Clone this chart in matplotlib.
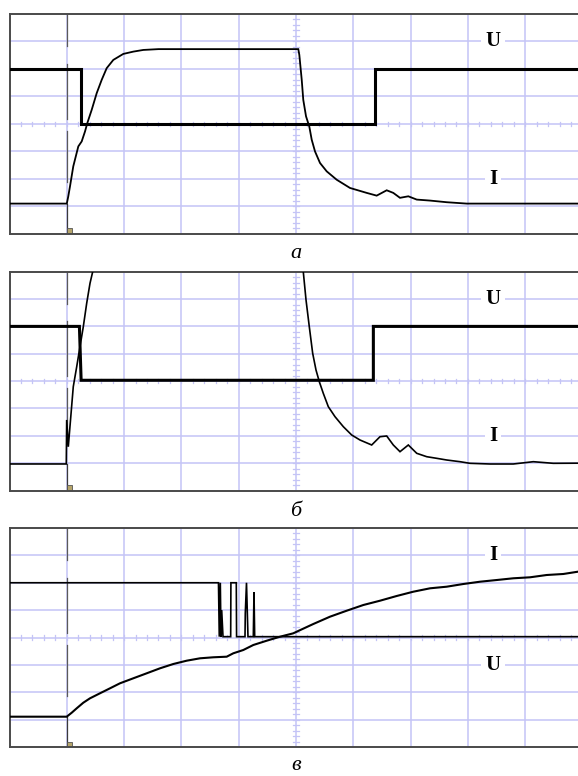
import matplotlib.pyplot as plt
from matplotlib.patches import Rectangle
import numpy as np

plt.rcParams['font.family'] = ['Liberation Serif', 'DejaVu Serif']

W, H = 578, 776          # размер рисунка, px
DPI = 100
X0, DIV_X = 9.5, 57.3    # левый край экрана и цена деления по x, px

GRID_COLOR = '#c4c4f6'
FRAME_COLOR = '#4a4a4a'
TRACE_COLOR = 'black'

# ---- осциллограмма а ----
a_u_t = [0.0, 1.25, 1.25, 6.38, 6.38, 10.0]
a_u = [6.0, 6.0, 4.0, 4.0, 6.0, 6.0]
a_i_t = [0.0, 1.0, 1.026, 1.056, 1.113, 1.201, 1.26, 1.318, 1.358, 1.435,
         1.522, 1.609, 1.696, 1.812, 1.986, 2.161, 2.335, 2.6, 5.04,
         5.058, 5.1, 5.127, 5.175, 5.232, 5.274, 5.332, 5.419, 5.536, 5.71,
         5.942, 6.234, 6.408, 6.583, 6.698, 6.815, 6.96, 7.107, 7.339, 7.63,
         7.979, 10.0]
a_i = [1.09, 1.09, 1.356, 1.72, 2.447, 3.175, 3.356, 3.72, 4.025, 4.51,
       5.116, 5.6, 6.025, 6.327, 6.545, 6.629, 6.69, 6.72, 6.72,
       6.51, 5.6, 4.87, 4.27, 3.9, 3.42, 2.99, 2.57, 2.265, 1.96,
       1.66, 1.48, 1.38, 1.575, 1.48, 1.3, 1.356, 1.236, 1.2, 1.14,
       1.09, 1.09]

# ---- осциллограмма б ----
b_u_t = [0.0, 1.22, 1.25, 6.35, 6.35, 10.0]
b_u = [6.0, 6.0, 4.03, 4.03, 6.0, 6.0]
b_i_t = [0.0, 0.969, 0.991, 0.998, 1.026, 1.113, 1.173, 1.23, 1.288, 1.347,
         1.405, 1.452, 1.475, 5.113, 5.127, 5.175, 5.232, 5.291, 5.349, 5.407,
         5.476, 5.564, 5.681, 5.826, 5.972, 6.117, 6.321, 6.466, 6.583, 6.698,
         6.815, 6.96, 7.107, 7.281, 7.455, 7.63, 7.862, 8.037, 8.386, 8.792,
         9.141, 9.49, 10.0]
b_i = [0.97, 0.97, 0.97, 2.58, 1.6, 3.795, 4.527, 5.258, 5.989, 6.845,
       7.576, 8.0, 9.0, 9.0, 8.0, 6.965, 5.989, 5.017, 4.406, 3.978,
       3.554, 3.064, 2.698, 2.333, 2.029, 1.846, 1.664, 1.967, 1.993, 1.664,
       1.419, 1.664, 1.36, 1.236, 1.177, 1.115, 1.053, 0.994, 0.969, 0.969,
       1.053, 0.994, 1.0]

# ---- осциллограмма в ----
c_u_t = [0.0, 3.647, 3.661, 3.679, 3.691, 3.703, 3.726, 3.86, 3.864, 3.958,
         3.963, 4.11, 4.115, 4.136, 4.162, 4.255, 4.267, 4.279, 10.0]
c_u = [6.0, 6.0, 4.03, 6.0, 4.03, 5.0, 4.03, 4.03, 6.0, 6.0,
       4.03, 4.03, 4.88, 6.0, 4.03, 4.03, 5.66, 4.03, 4.03]
c_i_t = [0.0, 0.998, 1.086, 1.173, 1.288, 1.405, 1.579, 1.754, 1.928, 2.161,
         2.394, 2.627, 2.859, 3.093, 3.325, 3.557, 3.791, 3.848, 3.906, 4.08,
         4.255, 4.489, 4.721, 4.953, 5.012, 5.302, 5.593, 5.885, 6.175, 6.466,
         6.757, 7.047, 7.339, 7.63, 7.92, 8.211, 8.503, 8.792, 9.084, 9.375,
         9.665, 10.0]
c_i = [1.107, 1.107, 1.253, 1.414, 1.618, 1.779, 1.962, 2.144, 2.327, 2.51,
       2.692, 2.875, 3.032, 3.153, 3.24, 3.277, 3.299, 3.361, 3.423, 3.543,
       3.726, 3.883, 4.029, 4.153, 4.212, 4.493, 4.76, 4.979, 5.187, 5.344,
       5.516, 5.673, 5.797, 5.856, 5.954, 6.038, 6.1, 6.163, 6.199, 6.283,
       6.32, 6.43]

panels = [
    # (верх, низ в px, U, I, подписи (текст, y-деление), подпись панели, y подписи)
    dict(top=14, bottom=233.5, u=(a_u_t, a_u, 2.2), i=(a_i_t, a_i, 1.3),
         labels=[('U', 7), ('I', 2)], caption='а', cap_y=254),
    dict(top=271.7, bottom=490.5, u=(b_u_t, b_u, 2.2), i=(b_i_t, b_i, 1.2),
         labels=[('U', 7), ('I', 2)], caption='б', cap_y=511),
    dict(top=528, bottom=747, u=(c_u_t, c_u, 1.2), i=(c_i_t, c_i, 1.5),
         labels=[('I', 7), ('U', 3)], caption='в', cap_y=766),
]

# пунктир линии запуска: участки (от, до) в делениях по y
TRIG_DASHES = [(8.0, 6.83), (6.18, 4.17), (3.73, 1.87)]

fig = plt.figure(figsize=(W / DPI, H / DPI), dpi=DPI)

for p in panels:
    ax = fig.add_axes([X0 / W, 1 - p['bottom'] / H,
                       10 * DIV_X / W, (p['bottom'] - p['top']) / H])
    ax.set_xlim(0, 10)
    ax.set_ylim(0, 8)
    ax.set_xticks([])
    ax.set_yticks([])
    for s in ax.spines.values():
        s.set_color(FRAME_COLOR)
        s.set_linewidth(1.4)

    # сетка экрана
    for gx in range(1, 10):
        ax.axvline(gx, color=GRID_COLOR, lw=1.1, zorder=0)
    for gy in range(1, 8):
        ax.axhline(gy, color=GRID_COLOR, lw=1.1, zorder=0)
    # мелкие риски на центральных осях
    for ty in np.arange(0.2, 8, 0.2):
        ax.plot([4.955, 5.045], [ty, ty], color=GRID_COLOR, lw=0.9, zorder=0)
    for tx in np.arange(0.2, 10, 0.2):
        ax.plot([tx, tx], [3.92, 4.08], color=GRID_COLOR, lw=0.9, zorder=0)

    # линия запуска и маркер
    for y1, y2 in TRIG_DASHES:
        ax.plot([1, 1], [y1, y2], color='#5a5a5a', lw=0.9, zorder=1)
    ax.plot([1, 1], [0, p['i'][1][0]], color='#3a3a3a', lw=0.9, zorder=1)
    ax.add_patch(Rectangle((1.0, 0.0), 0.09, 0.2, facecolor='#b5a46a',
                           edgecolor='#555555', lw=0.6, zorder=2))

    # сигналы
    for t, v, lw in (p['u'], p['i']):
        ax.plot(t, v, color=TRACE_COLOR, lw=lw, zorder=3,
                solid_joinstyle='miter')

    for txt, ly in p['labels']:
        ax.text(8.44, ly, txt, ha='center', va='center', fontsize=15,
                fontweight='bold', zorder=4,
                bbox=dict(facecolor='white', edgecolor='none', pad=3))

    fig.text(296 / W, 1 - p['cap_y'] / H, p['caption'], ha='center',
             va='center', fontsize=16, style='italic')

fig.savefig('out.png', dpi=DPI)
